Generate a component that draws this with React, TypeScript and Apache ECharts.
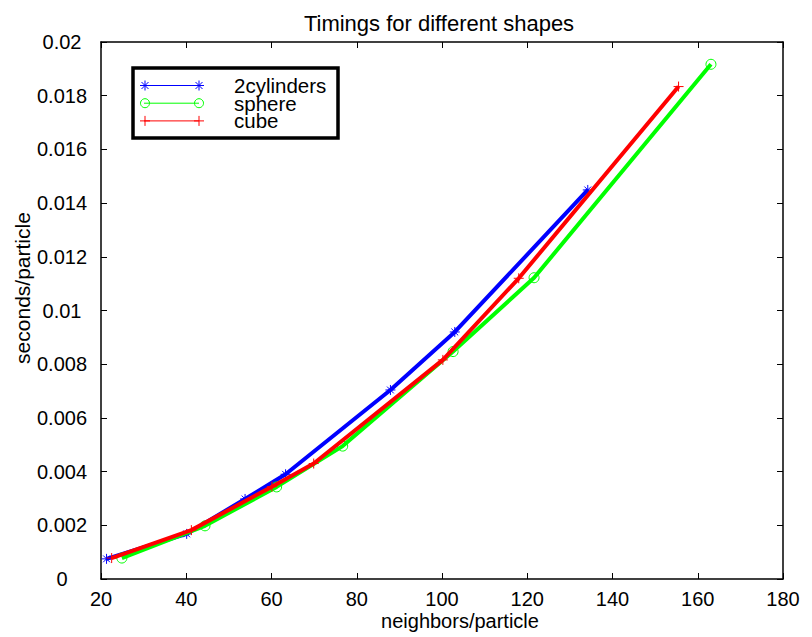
import React, { useEffect, useRef } from "react";
import * as echarts from "echarts";

const titleText = "Timings for different shapes";
const xName = "neighbors/particle";
const yName = "seconds/particle";
const seriesNames = ["2cylinders", "sphere", "cube"];
const seriesColors = ["#0000ff", "#00ff00", "#ff0000"];

const cylX = [21.3, 40.1, 53.8, 63.3, 87.9, 103.0, 134.2];
const cylY = [0.00075, 0.00168, 0.00298, 0.0039, 0.00704, 0.0092, 0.01449];
const sphX = [24.9, 44.4, 61.2, 76.7, 102.6, 121.6, 163.1];
const sphY = [0.00078, 0.00198, 0.00343, 0.00495, 0.00847, 0.01122, 0.01917];
const cubX = [22.5, 41.2, 60.1, 69.9, 100.2, 118.0, 155.5];
const cubY = [0.00078, 0.00182, 0.00344, 0.0043, 0.00816, 0.0112, 0.01834];

const xMin = 20, xMax = 180, xStep = 20;
const yMin = 0, yMax = 0.02, yStep = 0.002;

const FONT = "Liberation Sans, Arial, Helvetica, sans-serif";
const STAR = "path://M0 5 L10 5 M5 0 L5 10 M1.6 1.6 L8.4 8.4 M8.4 1.6 L1.6 8.4";
const PLUS = "path://M0 5 L10 5 M5 0 L5 10";

function zip(xs: number[], ys: number[]) {
  return xs.map((x, i) => [x, ys[i]]);
}

function legendMarker(kind: string, cx: number, cy: number, color: string): any[] {
  const s = { stroke: color, lineWidth: 1 };
  const r = 5;
  if (kind === "circle") {
    return [{ type: "circle", shape: { cx, cy, r: 4.5 }, style: { ...s, fill: "none" } }];
  }
  const els: any[] = [
    { type: "line", shape: { x1: cx - r, y1: cy, x2: cx + r, y2: cy }, style: s },
    { type: "line", shape: { x1: cx, y1: cy - r, x2: cx, y2: cy + r }, style: s },
  ];
  if (kind === "star") {
    const d = 3.5;
    els.push({ type: "line", shape: { x1: cx - d, y1: cy - d, x2: cx + d, y2: cy + d }, style: s });
    els.push({ type: "line", shape: { x1: cx + d, y1: cy - d, x2: cx - d, y2: cy + d }, style: s });
  }
  return els;
}

export default function App() {
  const ref = useRef<HTMLDivElement>(null);
  useEffect(() => {
    if (!ref.current) return;
    const chart = echarts.init(ref.current, null, { renderer: "svg" });
    const kinds = ["star", "circle", "plus"];
    const symbols = [STAR, "circle", PLUS];
    const datas = [zip(cylX, cylY), zip(sphX, sphY), zip(cubX, cubY)];

    const legendEls: any[] = [
      {
        type: "rect",
        shape: { x: 133, y: 68, width: 205, height: 70 },
        style: { fill: "#fff", stroke: "#000", lineWidth: 3.5 },
        z: 100,
      },
    ];
    seriesNames.forEach((name, i) => {
      const y = 85.5 + i * 17.7;
      const c = seriesColors[i];
      legendEls.push({ type: "line", shape: { x1: 144, y1: y, x2: 199, y2: y }, style: { stroke: c, lineWidth: 1 }, z: 101 });
      legendMarker(kinds[i], 145, y, c).forEach((e) => legendEls.push({ ...e, z: 101 }));
      legendMarker(kinds[i], 199, y, c).forEach((e) => legendEls.push({ ...e, z: 101 }));
      legendEls.push({
        type: "text",
        x: 234,
        y: y,
        style: {
          text: name,
          font: `20.5px ${FONT}`,
          lineHeight: 17,
          fill: "#000",
          textAlign: "left",
          textVerticalAlign: "middle",
        },
        z: 101,
      });
    });

    const baseX = {
      type: "value",
      min: xMin,
      max: xMax,
      interval: xStep,
      axisLine: { show: true, onZero: false, lineStyle: { color: "#000", width: 1.5 } },
      axisTick: { show: true, inside: true, length: 6, lineStyle: { color: "#000", width: 1 } },
      splitLine: { show: false },
    };
    const baseY = {
      type: "value",
      min: yMin,
      max: yMax,
      interval: yStep,
      axisLine: { show: true, onZero: false, lineStyle: { color: "#000", width: 1.5 } },
      axisTick: { show: true, inside: true, length: 6, lineStyle: { color: "#000", width: 1 } },
      splitLine: { show: false },
    };

    chart.setOption({
      animation: false,
      backgroundColor: "#fff",
      title: {
        text: titleText,
        left: 434,
        top: 7,
        textAlign: "center",
        textStyle: { fontFamily: FONT, fontSize: 22, fontWeight: "normal", color: "#000" },
      },
      grid: { left: 101, top: 42, right: 29, bottom: 58, containLabel: false },
      xAxis: [
        {
          ...baseX,
          position: "bottom",
          axisLabel: { show: true, color: "#000", fontFamily: FONT, fontSize: 20, margin: 10, showMinLabel: true, showMaxLabel: true },
        },
        { ...baseX, position: "top", axisLabel: { show: false } },
      ],
      yAxis: [
        {
          ...baseY,
          position: "left",
          axisLabel: { show: true, color: "#000", fontFamily: FONT, fontSize: 20, margin: 39, align: "center", showMinLabel: true, showMaxLabel: true },
        },
        { ...baseY, position: "right", axisLabel: { show: false } },
      ],
      graphic: [
        {
          type: "text",
          x: 22,
          y: 288,
          rotation: Math.PI / 2,
          style: { text: yName, font: `21px ${FONT}`, fill: "#000", textAlign: "center", textVerticalAlign: "middle" },
        },
        {
          type: "text",
          x: 460,
          y: 621,
          style: { text: xName, font: `20px ${FONT}`, fill: "#000", textAlign: "center", textVerticalAlign: "middle" },
        },
        ...legendEls,
      ],
      series: seriesNames.map((name, i) => ({
        name,
        type: "line",
        xAxisIndex: 0,
        yAxisIndex: 0,
        data: datas[i],
        symbol: symbols[i],
        symbolSize: 10,
        showAllSymbol: true,
        lineStyle: { color: seriesColors[i], width: 4 },
        itemStyle: { color: "rgba(0,0,0,0)", borderColor: seriesColors[i], borderWidth: 1 },
        emphasis: { disabled: true },
        z: 2 + i,
      })),
    });
    return () => chart.dispose();
  }, []);
  return <div ref={ref} style={{ position: "absolute", left: 0, top: 0, width: 812, height: 637 }} />;
}
